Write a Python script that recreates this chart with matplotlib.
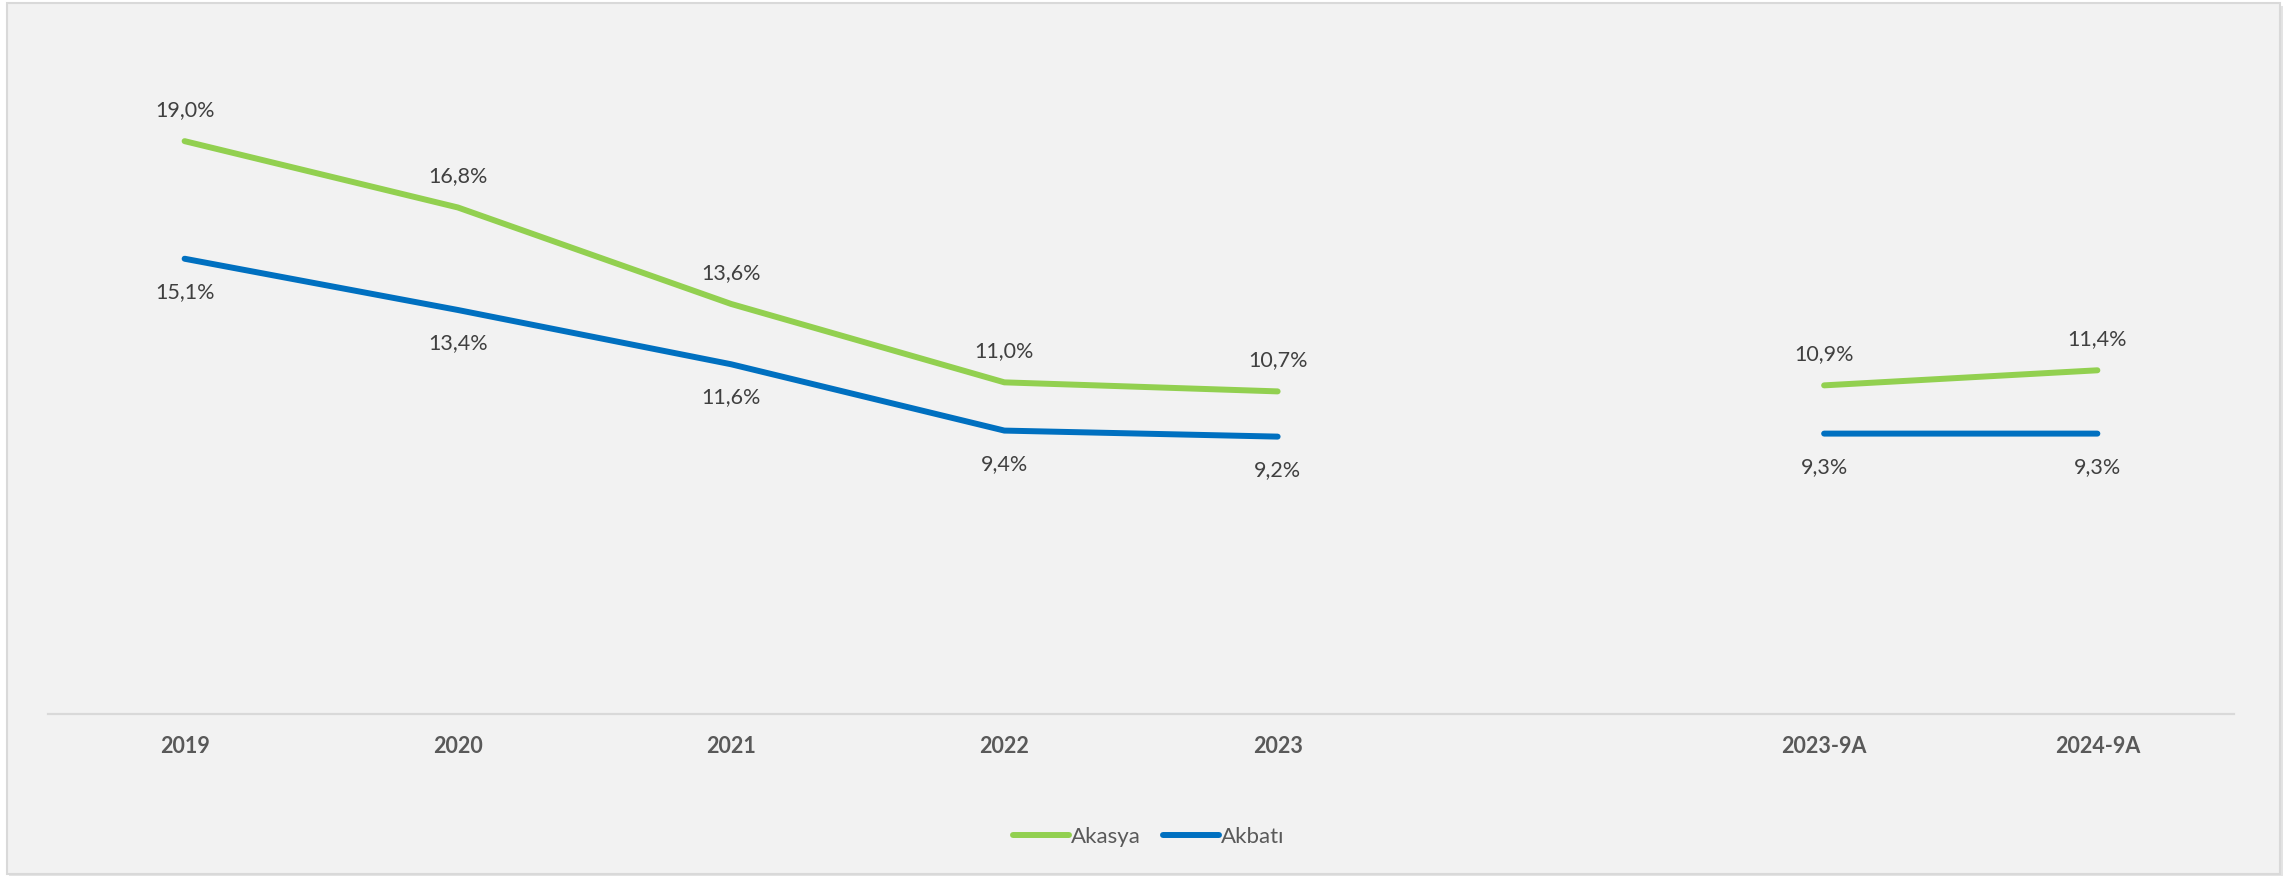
import numpy as np
import matplotlib
matplotlib.use("Agg")
import matplotlib.pyplot as plt
from matplotlib.patches import Rectangle

# Data
categories = ["2019", "2020", "2021", "2022", "2023", "", "2023-9A", "2024-9A"]
akasya = [19.0, 16.8, 13.6, 11.0, 10.7, np.nan, 10.9, 11.4]
akbati = [15.1, 13.4, 11.6, 9.4, 9.2, np.nan, 9.3, 9.3]
series_names = ["Akasya", "Akbatı"]
series_colors = ["#92D050", "#0070C0"]

plt.rcParams["font.family"] = ["Lato", "DejaVu Sans"]

W, H = 2295, 876
fig = plt.figure(figsize=(W / 100, H / 100), dpi=100)
fig.patch.set_facecolor("white")

# Chart frame with light shadow on the right/bottom
fig.patches.append(Rectangle((9 / W, 1 - 878 / H), (2274 / W), (872 / H),
                             transform=fig.transFigure, facecolor="#E4E4E4",
                             edgecolor="none", zorder=-3))
fig.patches.append(Rectangle((7 / W, 1 - 874 / H), (2273 / W), (871 / H),
                             transform=fig.transFigure, facecolor="#F2F2F2",
                             edgecolor="#D9D9D9", linewidth=1.5, zorder=-2))

ax = fig.add_axes([48 / W, (876 - 714) / H, (2234 - 48) / W, (714 - 111) / H])
ax.set_facecolor("none")

x = np.arange(len(categories))
for vals, name, col, offset in [(akasya, series_names[0], series_colors[0], 22.5),
                                (akbati, series_names[1], series_colors[1], -24)]:
    ax.plot(x, vals, color=col, linewidth=4.3, solid_capstyle="round",
            solid_joinstyle="round", label=name)
    for xi, v in zip(x, vals):
        if np.isnan(v):
            continue
        ax.annotate(f"{v:.1f}".replace(".", ",") + "%", (xi, v),
                    xytext=(0, offset), textcoords="offset points",
                    ha="center", va="center", fontsize=15.5, color="#404040",
                    annotation_clip=False)

ax.set_xlim(-0.5, len(categories) - 0.5)
ax.set_ylim(0, 20)
ax.set_yticks([])
ax.set_xticks(x)
ax.set_xticklabels(categories, fontsize=15.5, fontweight="bold", color="#595959")
ax.tick_params(axis="x", length=0, pad=16)
for s in ["top", "right", "left"]:
    ax.spines[s].set_visible(False)
ax.spines["bottom"].set_color("#D9D9D9")
ax.spines["bottom"].set_linewidth(1.6)

leg = fig.legend(loc="center", bbox_to_anchor=(1149 / W, 1 - 837 / H), ncol=2,
                 frameon=False, fontsize=16, handlelength=2.5, handletextpad=0.1,
                 columnspacing=1.0)
for t in leg.get_texts():
    t.set_color("#595959")
for h in leg.get_lines():
    h.set_solid_capstyle("round")

fig.savefig("out.png", dpi=100, facecolor=fig.get_facecolor())
